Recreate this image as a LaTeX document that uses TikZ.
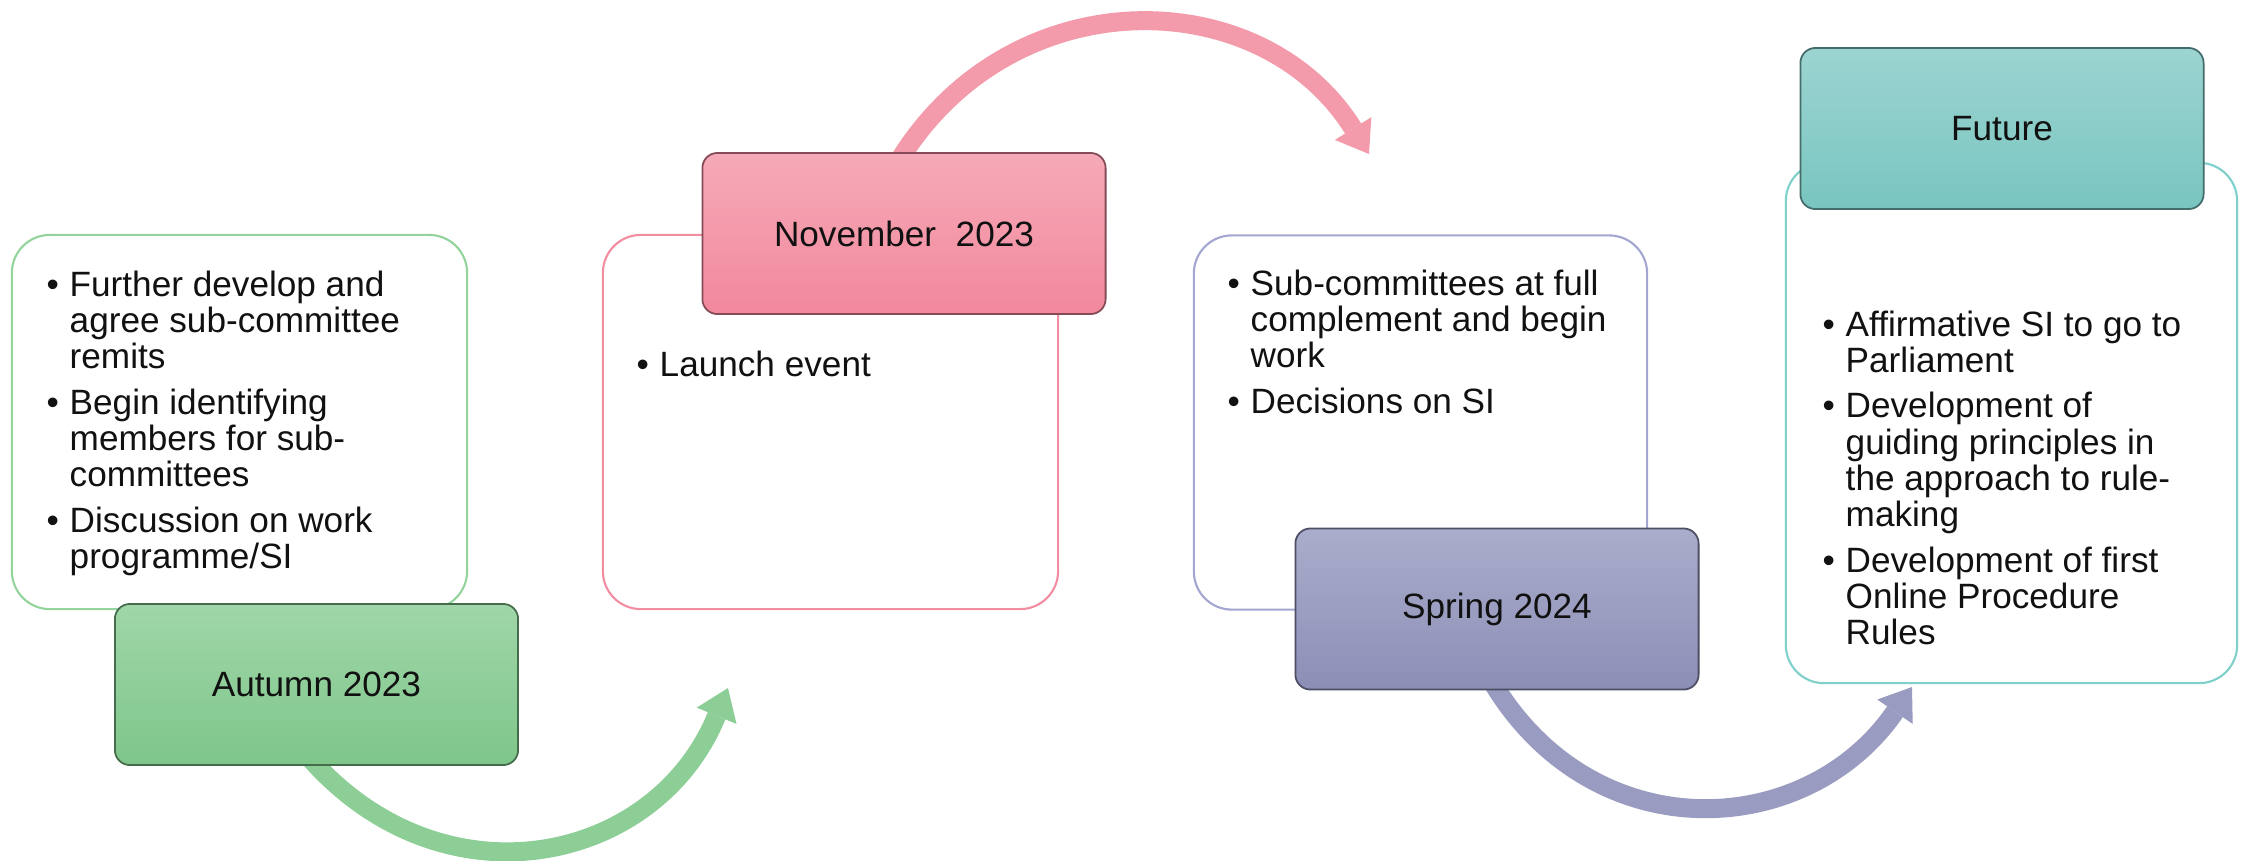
\documentclass[tikz,border=0pt]{standalone}
\usepackage{fontspec}
\setmainfont{Liberation Sans}
\usetikzlibrary{arrows.meta}
\pgfdeclarelayer{bg}
\pgfsetlayers{bg,main}

\definecolor{gTop}{HTML}{A0D6A9}
\definecolor{gBot}{HTML}{7EC68A}
\definecolor{gLine}{HTML}{93D39C}
\definecolor{gArr}{HTML}{8DCE97}
\definecolor{pTop}{HTML}{F5AAB8}
\definecolor{pBot}{HTML}{F2889C}
\definecolor{pLine}{HTML}{F28CA1}
\definecolor{pArr}{HTML}{F39BAB}
\definecolor{vTop}{HTML}{ABADCC}
\definecolor{vBot}{HTML}{8C8EB6}
\definecolor{vLine}{HTML}{A3A6D0}
\definecolor{vArr}{HTML}{9A9BC0}
\definecolor{tTop}{HTML}{9CD4D1}
\definecolor{tBot}{HTML}{79C5C0}
\definecolor{tLine}{HTML}{7FD0CB}
\definecolor{ink}{HTML}{111111}

\tikzset{
  txtbox/.style={draw, line width=0.6pt, fill=white, rounded corners=0.38cm,
    minimum width=4.55cm, minimum height=3.74cm, inner sep=0pt},
  lblbox/.style={rounded corners=0.15cm, minimum width=4.03cm, minimum height=1.61cm,
    inner sep=0pt, line width=0.5pt, text=ink, font=\fontsize{10pt}{12pt}\selectfont},
  body/.style={anchor=base west, inner sep=0pt, text=ink,
    font=\fontsize{10pt}{10.15pt}\selectfont},
  bigarrow/.style={line width=0.19cm,
    -{Triangle[length=0.30cm,width=0.43cm,line width=0pt]}, shorten <=-0.15cm},
}

\begin{document}
\begin{tikzpicture}[x=0.01cm, y=-0.01cm]
\useasboundingbox (0,0) rectangle (2244,860);

% text boxes
\node[txtbox, draw=gLine] (atxt) at (239.5,422) {};
\node[txtbox, draw=pLine] (ntxt) at (830.5,422) {};
\node[txtbox, draw=vLine, minimum width=4.53cm] (stxt) at (1420.5,422.5) {};
\node[txtbox, draw=tLine, minimum width=4.51cm, minimum height=5.20cm] (ftxt) at (2011.5,423) {};

% labels
\node[lblbox, top color=gTop, bottom color=gBot, draw=gBot!55!black] (albl) at (316.5,684.5) {Autumn 2023};
\node[lblbox, top color=pTop, bottom color=pBot, draw=pBot!55!black] (nlbl) at (904,233.5) {November\ \ 2023};
\node[lblbox, top color=vTop, bottom color=vBot, draw=vBot!55!black] (slbl) at (1497,609) {Spring 2024};
\node[lblbox, top color=tTop, bottom color=tBot, draw=tBot!55!black] (flbl) at (2002,128.5) {Future};

% body texts
\node[body] (atext) at (46,296) {\begin{tabular}[t]{@{}p{0.23cm}@{}l@{}}
\textbullet & Further develop and\\
 & agree sub-committee\\
 & remits\\[2.7pt]
\textbullet & Begin identifying\\
 & members for sub-\\
 & committees\\[2.7pt]
\textbullet & Discussion on work\\
 & programme/SI
\end{tabular}};

\node[body] (ntext) at (636,376) {\begin{tabular}[t]{@{}p{0.23cm}@{}l@{}}
\textbullet & Launch event
\end{tabular}};

\node[body] (stext) at (1227,295) {\begin{tabular}[t]{@{}p{0.23cm}@{}l@{}}
\textbullet & Sub-committees at full\\
 & complement and begin\\
 & work\\[2.7pt]
\textbullet & Decisions on SI
\end{tabular}};

\node[body] (ftext) at (1822,336) {\begin{tabular}[t]{@{}p{0.23cm}@{}l@{}}
\textbullet & Affirmative SI to go to\\
 & Parliament\\[2.7pt]
\textbullet & Development of\\
 & guiding principles in\\
 & the approach to rule-\\
 & making\\[2.7pt]
\textbullet & Development of first\\
 & Online Procedure\\
 & Rules
\end{tabular}};

% arrow tips
\coordinate (gtip) at (728,688);
\coordinate (ptip) at (1369,154);
\coordinate (vtip) at (1912,687);

\begin{pgfonlayer}{bg}
\draw[bigarrow, draw=gArr] (albl.south) .. controls (440,910) and (655,866) .. (gtip);
\draw[bigarrow, draw=pArr] (nlbl.north) .. controls (1008,-23) and (1261,-19) .. (ptip);
\draw[bigarrow, draw=vArr] (slbl.south) .. controls (1590,852) and (1806,841) .. (vtip);
\end{pgfonlayer}
\end{tikzpicture}
\end{document}
